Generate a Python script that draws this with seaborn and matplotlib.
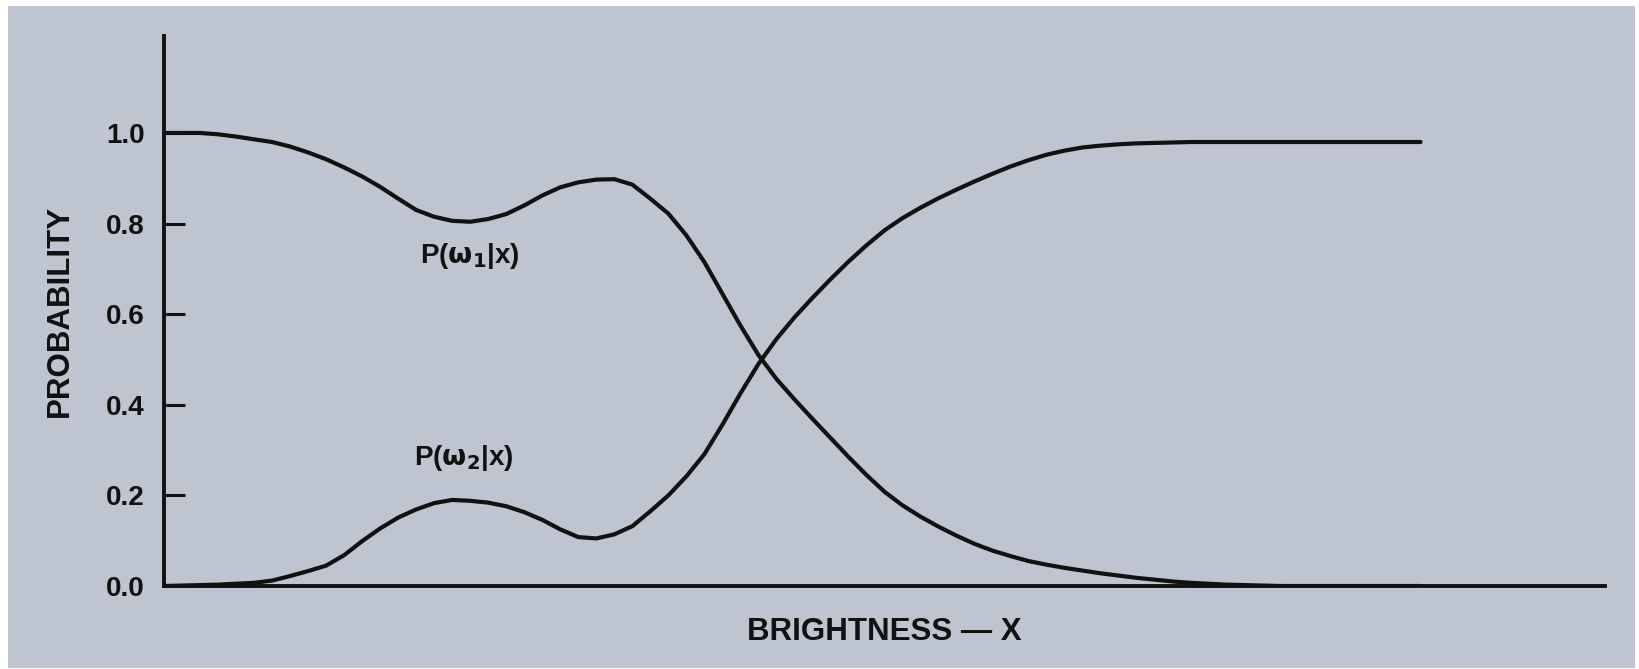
import matplotlib
matplotlib.use("Agg")
import matplotlib.pyplot as plt
from matplotlib.patches import Rectangle
import numpy as np
import pandas as pd
import seaborn as sns

# Brightness readings (x) and the two posterior probability curves
brightness = [0.0, 0.125, 0.25, 0.375, 0.5, 0.625, 0.75, 0.875,
              1.0, 1.125, 1.25, 1.375, 1.5, 1.625, 1.75, 1.875,
              2.0, 2.125, 2.25, 2.375, 2.5, 2.625, 2.75, 2.875,
              3.0, 3.125, 3.25, 3.375, 3.5, 3.625, 3.75, 3.875,
              4.0, 4.125, 4.25, 4.375, 4.5, 4.625, 4.75, 4.875,
              5.0, 5.125, 5.25, 5.375, 5.5, 5.625, 5.75, 5.875,
              6.0, 6.125, 6.25, 6.375, 6.5, 6.625, 6.75, 6.875,
              7.0, 7.125, 7.25, 7.375, 7.5, 7.625, 7.75, 8.0,
              8.25, 8.5, 8.72]
p_w1 = [1.0, 1.0, 1.0, 0.997, 0.992, 0.986, 0.98, 0.97,
        0.957, 0.942, 0.924, 0.904, 0.881, 0.855, 0.83, 0.815,
        0.806, 0.804, 0.81, 0.821, 0.84, 0.862, 0.88, 0.891,
        0.897, 0.898, 0.886, 0.855, 0.822, 0.774, 0.715, 0.645,
        0.575, 0.51, 0.457, 0.412, 0.369, 0.327, 0.285, 0.245,
        0.208, 0.178, 0.153, 0.131, 0.111, 0.093, 0.078, 0.066,
        0.055, 0.047, 0.04, 0.034, 0.028, 0.023, 0.018, 0.014,
        0.01, 0.007, 0.005, 0.003, 0.002, 0.001, 0.0, 0.0,
        0.0, 0.0, 0.0]
p_w2 = [0.0, 0.001, 0.002, 0.003, 0.005, 0.007, 0.012, 0.022,
        0.033, 0.045, 0.068, 0.099, 0.127, 0.151, 0.169, 0.183,
        0.19, 0.188, 0.184, 0.176, 0.163, 0.146, 0.125, 0.108,
        0.105, 0.114, 0.132, 0.165, 0.2, 0.242, 0.291, 0.356,
        0.425, 0.49, 0.545, 0.593, 0.636, 0.677, 0.716, 0.752,
        0.785, 0.812, 0.835, 0.856, 0.875, 0.893, 0.91, 0.926,
        0.94, 0.952, 0.961, 0.968, 0.972, 0.975, 0.977, 0.978,
        0.979, 0.98, 0.98, 0.98, 0.98, 0.98, 0.98, 0.98,
        0.98, 0.98, 0.98]

y_ticks = [0.0, 0.2, 0.4, 0.6, 0.8, 1.0]
y_tick_labels = ["0.0", "0.2", "0.4", "0.6", "0.8", "1.0"]
curve_labels = [r"P($\omega_1$|x)", r"P($\omega_2$|x)"]

PAPER = "#bec4d0"
INK = "#111111"

sns.set_theme(style="white")
plt.rcParams["font.family"] = ["Liberation Sans", "DejaVu Sans"]
plt.rcParams["mathtext.fontset"] = "dejavusans"
plt.rcParams["mathtext.default"] = "bf"

df = pd.DataFrame({"x": brightness, "w1": p_w1, "w2": p_w2})

fig = plt.figure(figsize=(16.4, 6.69), dpi=100, facecolor="white")
fig.patches.append(Rectangle((8 / 1640, 1 / 669), (1635 - 8) / 1640, (663 - 1) / 669,
                             transform=fig.transFigure, facecolor=PAPER,
                             edgecolor="none", zorder=-10))
ax = fig.add_axes([164 / 1640, 83 / 669, (1605 - 164) / 1640, (633 - 83) / 669])
ax.set_facecolor("none")

line_kw = dict(color=INK, linewidth=3.0, solid_capstyle="round", solid_joinstyle="round")
sns.lineplot(data=df, x="x", y="w1", ax=ax, **line_kw)
sns.lineplot(data=df, x="x", y="w2", ax=ax, **line_kw)

ax.set_xlim(0, 10)
ax.set_ylim(0, 1.214)

for side in ("top", "right"):
    ax.spines[side].set_visible(False)
for side in ("left", "bottom"):
    ax.spines[side].set_linewidth(2.8)
    ax.spines[side].set_color(INK)

ax.set_xticks([])
ax.set_yticks(y_ticks)
ax.set_yticklabels(y_tick_labels, fontsize=20, fontweight="bold", color=INK)
ax.tick_params(axis="y", direction="in", length=15, width=2.2, color=INK, pad=14, left=True)

ax.set_xlabel("BRIGHTNESS — X", fontsize=22.5, fontweight="bold", color=INK, labelpad=22)
ax.set_ylabel("PROBABILITY", fontsize=22.5, fontweight="bold", color=INK, labelpad=22)

ax.text(2.12, 0.728, curve_labels[0], fontsize=20, fontweight="bold", color=INK,
        ha="center", va="center")
ax.text(2.08, 0.283, curve_labels[1], fontsize=20, fontweight="bold", color=INK,
        ha="center", va="center")

fig.savefig("out.png", dpi=100, facecolor="white")
